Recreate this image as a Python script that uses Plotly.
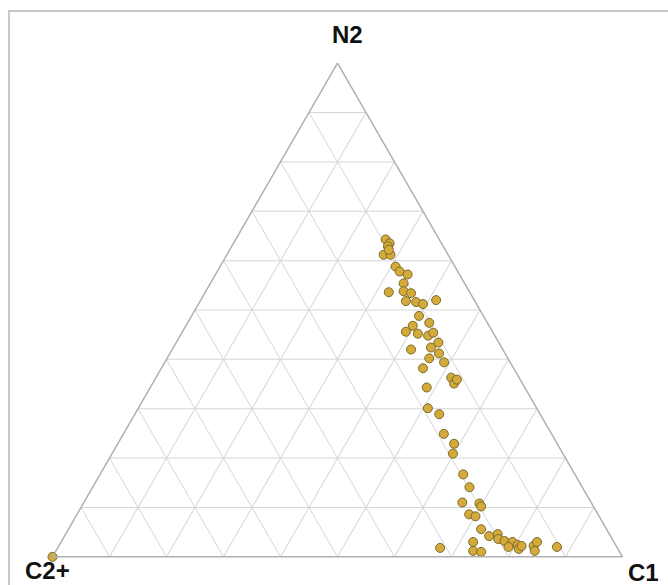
import plotly.graph_objects as go

# Ternary composition (%)
N2 = [64.3, 63.5, 62.9, 61.2, 61.2, 62.2, 58.8, 57.8, 57.2, 55.4,
      53.6, 53.8, 53.4, 51.8, 51.6, 51.2, 52.0, 48.8, 47.4, 46.8,
      45.6, 45.2, 44.8, 45.4, 43.4, 42.4, 42.0, 41.2, 40.2, 39.4,
      38.2, 36.3, 35.1, 35.9, 34.3, 30.1, 28.9, 24.9, 22.9, 20.9,
      16.7, 14.1, 11.0, 10.8, 10.2, 8.6, 8.2, 5.6, 4.2, 4.6,
      3.6, 3.2, 3.0, 2.4, 2.0, 1.6, 2.2, 2.2, 3.0, 1.2,
      2.0, 3.0, 1.2, 1.0, 1.8, 0.0]
C1 = [26.3, 27.4, 27.4, 27.5, 28.7, 27.9, 30.8, 32.0, 33.7, 33.9,
      32.2, 34.7, 36.2, 36.1, 38.0, 39.4, 41.3, 39.9, 42.4, 39.8,
      39.2, 41.5, 43.5, 44.1, 46.0, 45.2, 41.9, 47.2, 46.0, 49.0,
      45.9, 51.8, 52.9, 53.0, 48.5, 50.8, 53.4, 56.2, 59.0, 59.8,
      63.7, 66.1, 66.4, 69.5, 70.1, 68.8, 70.1, 72.4, 74.5, 75.8,
      76.4, 77.7, 79.2, 80.4, 79.0, 81.0, 81.2, 83.3, 83.5, 84.0,
      87.5, 72.3, 73.2, 74.7, 67.1, 0.0]
C2p = [round(100 - a - c, 1) for a, c in zip(N2, C1)]

fig = go.Figure()
fig.add_trace(go.Scatterternary(
    a=N2, b=C2p, c=C1, mode="markers",
    marker=dict(size=9, color="#D4AA3A", line=dict(color="#7A6A2C", width=1)),
    hoverinfo="a+b+c", showlegend=False, cliponaxis=False,
))

axis_common = dict(
    showticklabels=False, ticks="", dtick=10, showgrid=True,
    gridcolor="#d6d6d6", gridwidth=1, linecolor="#b0b0b0", linewidth=1.5,
    showline=True, title=dict(text=""),
)
fig.update_layout(
    width=668, height=585,
    margin=dict(l=0, r=0, t=0, b=0),
    paper_bgcolor="white",
    ternary=dict(
        sum=100,
        bgcolor="white",
        domain=dict(x=[52.5/668, 622.5/668], y=[28/585, 522/585]),
        aaxis=axis_common, baxis=axis_common, caxis=axis_common,
    ),
    font=dict(family="Liberation Sans"),
)

lbl_font = dict(family="Liberation Sans", size=24, color="#111111")
fig.add_annotation(text="<b>N2</b>", x=347/668, y=1-34/585, xref="paper", yref="paper",
                   showarrow=False, font=lbl_font, xanchor="center", yanchor="middle")
fig.add_annotation(text="<b>C2+</b>", x=47/668, y=1-570/585, xref="paper", yref="paper",
                   showarrow=False, font=lbl_font, xanchor="center", yanchor="middle")
fig.add_annotation(text="<b>C1</b>", x=661/668, y=1-572/585, xref="paper", yref="paper",
                   showarrow=False, font=lbl_font, xanchor="right", yanchor="middle")

# outer frame
fig.add_shape(type="rect", xref="paper", yref="paper",
              x0=9/668, y0=-0.02, x1=1.02, y1=1-11/585,
              line=dict(color="#c8c8c8", width=2), fillcolor="rgba(0,0,0,0)")

fig.write_html("out.html", config={"displayModeBar": False},
               post_script="document.body.style.margin='0';document.body.style.overflow='hidden';")
